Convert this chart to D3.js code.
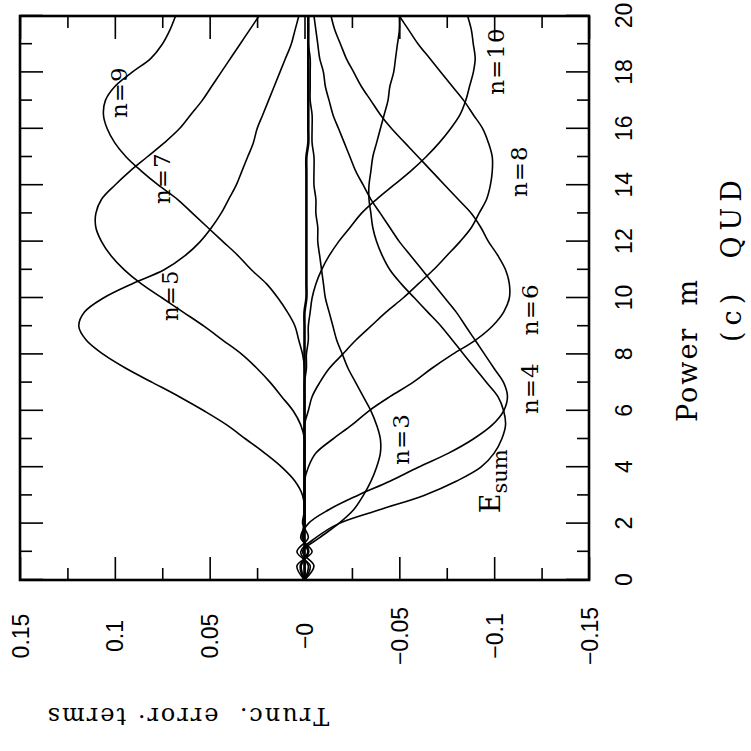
<!DOCTYPE html>
<html>
<head>
<meta charset="utf-8">
<script src="https://cdn.jsdelivr.net/npm/d3@7"></script>
<style>
  html, body { margin: 0; padding: 0; background: #fff; }
  svg text { fill: #000; }
</style>
</head>
<body>
<svg id="chart" width="751" height="751"></svg>
<script>
// Power m sampled every 0.5
const powers = [0, 0.5, 1, 1.5, 2, 2.5, 3, 3.5, 4, 4.5, 5, 5.5, 6, 6.5, 7, 7.5, 8, 8.5, 9, 9.5,
  10, 10.5, 11, 11.5, 12, 12.5, 13, 13.5, 14, 14.5, 15, 15.5, 16, 16.5, 17, 17.5, 18, 18.5, 19, 19.5, 20];

// Truncation error terms for each n, and their sum
const termN2 = [0, 0.002, -0.002, 0.001, 0, 0, 0, 0, 0, 0, 0, 0, 0, 0, 0, 0, 0, 0, 0, 0,
  -0.001, -0.001, -0.001, -0.001, -0.001, -0.001, -0.001, -0.001, -0.001, -0.001, -0.001, -0.002, -0.002, -0.002, -0.002, -0.002, -0.002, -0.002, -0.002, -0.002, -0.002];
const termN3 = [0, -0.005, 0.001, -0.008, -0.018, -0.026, -0.031, -0.035, -0.038, -0.040, -0.040, -0.038, -0.035, -0.031, -0.027, -0.023, -0.020, -0.017, -0.015, -0.013,
  -0.011, -0.010, -0.009, -0.008, -0.007, -0.007, -0.006, -0.006, -0.005, -0.005, -0.005, -0.004, -0.004, -0.004, -0.003, -0.003, -0.003, -0.003, -0.002, -0.002, -0.002];
const termN4 = [0, 0.004, -0.004, 0.002, -0.002, -0.013, -0.028, -0.045, -0.060, -0.076, -0.089, -0.099, -0.105, -0.107, -0.105, -0.100, -0.095, -0.090, -0.085, -0.080,
  -0.074, -0.068, -0.062, -0.056, -0.050, -0.045, -0.040, -0.035, -0.031, -0.027, -0.024, -0.021, -0.018, -0.015, -0.013, -0.011, -0.010, -0.008, -0.007, -0.006, -0.005];
const termN5 = [0, -0.003, 0.004, -0.002, 0.001, 0, 0.001, 0.005, 0.012, 0.021, 0.031, 0.041, 0.053, 0.066, 0.080, 0.094, 0.106, 0.115, 0.119, 0.116,
  0.106, 0.091, 0.074, 0.063, 0.055, 0.049, 0.044, 0.040, 0.036, 0.033, 0.030, 0.027, 0.025, 0.022, 0.019, 0.016, 0.013, 0.010, 0.007, 0.005, 0.003];
const termN6 = [0, 0, 0, 0, 0, 0, 0, 0, -0.002, -0.006, -0.015, -0.025, -0.034, -0.045, -0.057, -0.067, -0.078, -0.090, -0.099, -0.105,
  -0.108, -0.108, -0.106, -0.102, -0.097, -0.093, -0.088, -0.081, -0.074, -0.067, -0.060, -0.053, -0.046, -0.040, -0.035, -0.030, -0.026, -0.022, -0.019, -0.016, -0.014];
const termN7 = [0, 0, 0, 0, 0, 0, 0, 0, 0, 0, 0, 0.002, 0.006, 0.012, 0.018, 0.025, 0.033, 0.043, 0.053, 0.064,
  0.075, 0.086, 0.095, 0.102, 0.107, 0.110, 0.110, 0.107, 0.100, 0.092, 0.083, 0.074, 0.066, 0.060, 0.054, 0.049, 0.044, 0.039, 0.034, 0.029, 0.024];
const termN8 = [0, 0, 0, 0, 0, 0, 0, 0, 0, 0, 0, 0, -0.002, -0.004, -0.008, -0.013, -0.020, -0.027, -0.035, -0.043,
  -0.052, -0.060, -0.068, -0.075, -0.082, -0.088, -0.092, -0.096, -0.098, -0.099, -0.099, -0.097, -0.094, -0.089, -0.084, -0.078, -0.072, -0.066, -0.060, -0.055, -0.050];
const termN9 = [0, 0, 0, 0, 0, 0, 0, 0, 0, 0, 0, 0, 0, 0, 0, 0, 0.001, 0.003, 0.005, 0.009,
  0.014, 0.020, 0.028, 0.035, 0.043, 0.051, 0.059, 0.067, 0.077, 0.086, 0.094, 0.100, 0.104, 0.106, 0.105, 0.100, 0.091, 0.081, 0.075, 0.071, 0.068];
const termN10 = [0, 0, 0, 0, 0, 0, 0, 0, 0, 0, 0, 0, 0, 0, 0, -0.001, -0.001, -0.002, -0.002, -0.003,
  -0.004, -0.006, -0.009, -0.013, -0.018, -0.024, -0.030, -0.038, -0.047, -0.056, -0.064, -0.071, -0.077, -0.082, -0.085, -0.087, -0.089, -0.090, -0.089, -0.088, -0.086];
const errorSum = [0, -0.002, 0.002, -0.006, -0.018, -0.040, -0.063, -0.080, -0.093, -0.100, -0.104, -0.106, -0.105, -0.102, -0.096, -0.090, -0.084, -0.078, -0.072, -0.065,
  -0.058, -0.051, -0.045, -0.041, -0.038, -0.036, -0.035, -0.034, -0.034, -0.035, -0.036, -0.038, -0.040, -0.042, -0.044, -0.045, -0.047, -0.048, -0.049, -0.050, -0.050];

// Axis ticks and their labels
const powerTicks = [0, 2, 4, 6, 8, 10, 12, 14, 16, 18, 20];
const powerMinorTicks = [1, 3, 5, 7, 9, 11, 13, 15, 17, 19];
const errorTicks = [0.15, 0.1, 0.05, 0, -0.05, -0.1, -0.15];
const errorTickLabels = ["0.15", "0.1", "0.05", "\u22120", "\u22120.05", "\u22120.1", "\u22120.15"];
const errorMinorTicks = [0.125, 0.075, 0.025, -0.025, -0.075, -0.125];

// Curve annotations (placed in data units)
const curveLabels = [
  { text: "n=3", m: 5.0, v: -0.051 },
  { text: "n=4", m: 6.8, v: -0.119 },
  { text: "n=5", m: 10.1, v: 0.071 },
  { text: "n=6", m: 9.6, v: -0.119 },
  { text: "n=7", m: 14.25, v: 0.075 },
  { text: "n=8", m: 14.5, v: -0.113 },
  { text: "n=9", m: 17.3, v: 0.098 },
  { text: "n=10", m: 18.4, v: -0.101 }
];
const sumLabel = { m: 3.5, v: -0.1 };

const series = [termN3, termN4, termN5, termN6, termN7, termN8, termN9, termN10, errorSum];

// Plot frame: drawn in portrait orientation, then turned a quarter turn
const W = 564, H = 569;
const svg = d3.select("#chart");
const g = svg.append("g").attr("transform", "translate(20,580) rotate(-90)");

const x = d3.scaleLinear().domain([0, 20]).range([0, W]);
const y = d3.scaleLinear().domain([-0.15, 0.15]).range([H, 0]);

const line = d3.line()
  .x((d, i) => x(powers[i]))
  .y(d => y(d))
  .curve(d3.curveCatmullRom.alpha(0.5));

// Near-zero term drawn heavy
g.append("path").datum(termN2)
  .attr("d", line).attr("fill", "none")
  .attr("stroke", "#000").attr("stroke-width", 2.6);

g.selectAll("path.term").data(series).join("path")
  .attr("class", "term")
  .attr("d", line)
  .attr("fill", "none")
  .attr("stroke", "#000")
  .attr("stroke-width", 1.6);

// Ticks on all four sides, pointing inward
const tickFont = "'Liberation Sans', Arial, sans-serif";
function styleAxis(sel) {
  sel.select(".domain").remove();
  sel.selectAll(".tick line").attr("stroke", "#000").attr("stroke-width", 1.6);
}

const xb = g.append("g").attr("transform", `translate(0,${H})`)
  .call(d3.axisBottom(x).tickValues(powerTicks).tickSize(-23).tickPadding(27).tickFormat(d3.format("d")));
styleAxis(xb);
xb.selectAll("text").attr("font-family", tickFont).attr("font-size", 23);

const xbm = g.append("g").attr("transform", `translate(0,${H})`)
  .call(d3.axisBottom(x).tickValues(powerMinorTicks).tickSize(-12).tickFormat(""));
styleAxis(xbm);

const xt = g.append("g").call(d3.axisTop(x).tickValues(powerTicks).tickSize(-23).tickFormat(""));
styleAxis(xt);
const xtm = g.append("g").call(d3.axisTop(x).tickValues(powerMinorTicks).tickSize(-12).tickFormat(""));
styleAxis(xtm);

const yl = g.append("g")
  .call(d3.axisLeft(y).tickValues(errorTicks).tickSize(-23)
    .tickFormat((d, i) => errorTickLabels[i]));
styleAxis(yl);
yl.selectAll("text")
  .attr("font-family", tickFont).attr("font-size", 23)
  .attr("text-anchor", "middle").attr("x", -56).attr("dy", "0.35em");

const ylm = g.append("g").call(d3.axisLeft(y).tickValues(errorMinorTicks).tickSize(-12).tickFormat(""));
styleAxis(ylm);

const yr = g.append("g").attr("transform", `translate(${W},0)`)
  .call(d3.axisRight(y).tickValues(errorTicks).tickSize(-23).tickFormat(""));
styleAxis(yr);
const yrm = g.append("g").attr("transform", `translate(${W},0)`)
  .call(d3.axisRight(y).tickValues(errorMinorTicks).tickSize(-12).tickFormat(""));
styleAxis(yrm);

// Frame
g.append("rect").attr("x", 0).attr("y", 0).attr("width", W).attr("height", H)
  .attr("fill", "none").attr("stroke", "#000").attr("stroke-width", 2.6);

// Curve labels
const labelFont = "'DejaVu Serif', 'Liberation Serif', serif";
g.selectAll("text.curve-label").data(curveLabels).join("text")
  .attr("class", "curve-label")
  .attr("x", d => x(d.m)).attr("y", d => y(d.v))
  .attr("text-anchor", "middle").attr("dy", "0.35em")
  .attr("font-family", labelFont).attr("font-size", 23)
  .attr("letter-spacing", 1)
  .text(d => d.text);

const sumText = g.append("text")
  .attr("x", x(sumLabel.m)).attr("y", y(sumLabel.v))
  .attr("text-anchor", "middle").attr("dy", "0.2em")
  .attr("font-family", labelFont).attr("font-size", 27);
sumText.append("tspan").text("E");
sumText.append("tspan").attr("dy", "0.35em").attr("font-size", 21).text("sum");

// Axis titles
const titleFont = "'DejaVu Serif', 'Liberation Serif', serif";
g.append("text")
  .attr("x", x(10) - 52).attr("y", H + 108)
  .attr("text-anchor", "middle")
  .attr("font-family", titleFont).attr("font-size", 27)
  .attr("letter-spacing", 2)
  .style("white-space", "pre")
  .text("Power  m");

g.append("text")
  .attr("x", x(10) + 40).attr("y", H + 152)
  .attr("text-anchor", "middle")
  .attr("font-family", titleFont).attr("font-size", 27)
  .attr("letter-spacing", 6)
  .style("white-space", "pre")
  .text("(c)  QUD");

g.append("text")
  .attr("transform", `translate(-128,${y(0) - 117}) rotate(-90)`)
  .attr("text-anchor", "middle")
  .attr("font-family", titleFont).attr("font-size", 24)
  .attr("letter-spacing", 2)
  .style("white-space", "pre")
  .text("Trunc.  error\u00b7 terms");
</script>
</body>
</html>
